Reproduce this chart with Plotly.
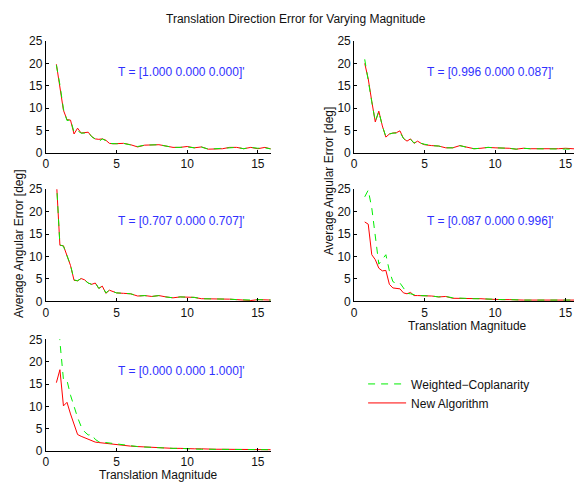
import plotly.graph_objects as go

# ---------------- data ----------------
magnitude = [0.75, 1.0, 1.25, 1.5, 1.75, 2.0, 2.25, 2.5, 2.75, 3.0, 3.25, 3.5, 3.75, 4.0,
             4.25, 4.5, 4.75, 5.0, 5.5, 6.0, 6.5, 7.0, 7.5, 8.0, 8.5, 9.0, 9.5, 10.0,
             10.5, 11.0, 11.5, 12.0, 12.5, 13.0, 13.5, 14.0, 14.5, 15.0, 15.5, 16.0]

directions = ["T = [1.000 0.000 0.000]'", "T = [0.996 0.000 0.087]'",
              "T = [0.707 0.000 0.707]'", "T = [0.087 0.000 0.996]'",
              "T = [0.000 0.000 1.000]'"]

# New Algorithm (red, solid)
new_1 = [19.8, 15.0, 9.5, 7.4, 7.3, 4.2, 5.5, 4.4, 4.5, 4.6, 3.6, 3.1, 3.0, 3.1,
         2.8, 2.1, 2.0, 2.0, 2.1, 1.8, 1.3, 1.7, 1.8, 1.8, 1.5, 1.2, 1.2, 1.4,
         1.1, 1.3, 0.8, 0.9, 0.9, 1.2, 1.2, 0.9, 1.2, 0.9, 1.2, 0.8]
new_2 = [20.0, 16.5, 11.5, 6.9, 9.3, 6.0, 3.5, 4.2, 4.4, 4.5, 4.9, 3.2, 2.6, 3.1,
         2.1, 2.6, 2.1, 1.8, 1.6, 1.5, 1.1, 1.1, 1.6, 1.2, 0.9, 1.0, 1.2, 1.1,
         1.1, 1.0, 0.8, 1.0, 0.9, 0.9, 0.9, 0.8, 0.9, 1.0, 0.8, 0.8]
new_3 = [27.0, 12.5, 12.4, 10.1, 8.0, 4.7, 4.6, 5.1, 4.8, 4.1, 3.8, 4.1, 2.9, 3.4,
         1.8, 2.5, 2.2, 1.9, 1.8, 1.7, 1.2, 1.3, 1.1, 1.3, 1.0, 0.8, 1.0, 1.0,
         0.9, 0.6, 0.6, 0.6, 0.6, 0.5, 0.4, 0.3, 0.2, 0.4, 0.4, 0.3]
new_4 = [17.7, 17.2, 10.4, 9.3, 7.4, 6.8, 6.9, 3.8, 3.0, 2.9, 2.8, 1.9, 1.7, 2.0,
         1.3, 1.3, 1.3, 1.3, 1.2, 1.0, 1.1, 0.7, 0.7, 0.7, 0.6, 0.6, 0.5, 0.4,
         0.4, 0.4, 0.3, 0.3, 0.3, 0.3, 0.3, 0.3, 0.3, 0.3, 0.3, 0.3]
new_5 = [15.3, 18.2, 10.1, 10.9, 8.3, 5.8, 3.7, 3.3, 3.0, 2.6, 2.3, 2.0, 1.9, 1.8,
         1.7, 1.6, 1.5, 1.5, 1.3, 1.1, 1.0, 0.9, 0.8, 0.8, 0.7, 0.6, 0.6, 0.5,
         0.5, 0.5, 0.4, 0.4, 0.4, 0.4, 0.3, 0.3, 0.4, 0.4, 0.3, 0.3]

# Weighted-Coplanarity (green, dashed)
wc_1 = [19.6, 15.2, 9.8, 7.2, 7.4, 4.6, 4.9, 4.4, 4.4, 4.6, 3.6, 3.1, 2.5, 3.1,
        2.7, 2.1, 2.0, 2.0, 2.1, 1.8, 1.4, 1.7, 1.8, 1.8, 1.5, 1.2, 1.2, 1.3,
        1.1, 1.3, 0.8, 0.9, 1.0, 1.2, 1.2, 0.9, 1.2, 1.0, 1.1, 0.8]
wc_2 = [20.9, 16.6, 11.4, 7.0, 9.2, 6.0, 3.6, 4.2, 4.4, 4.4, 4.6, 3.2, 2.6, 3.0,
        2.2, 2.5, 2.1, 1.9, 1.6, 1.5, 1.1, 1.1, 1.6, 1.2, 0.9, 1.0, 1.2, 1.1,
        1.1, 1.0, 0.8, 1.0, 0.9, 0.9, 0.9, 0.8, 0.9, 0.9, 0.8, 0.8]
wc_3 = [27.0, 12.6, 12.3, 10.2, 8.1, 4.8, 4.6, 5.1, 4.7, 4.1, 3.8, 4.2, 2.9, 3.4,
        1.9, 2.5, 2.2, 1.9, 1.8, 1.7, 1.2, 1.3, 1.1, 1.3, 1.0, 0.8, 1.0, 1.0,
        0.9, 0.6, 0.6, 0.6, 0.6, 0.5, 0.4, 0.3, 0.3, 0.4, 0.4, 0.3]
wc_4 = [23.3, 24.8, 20.8, 14.7, 8.3, 9.4, 10.4, 6.8, 4.4, 4.0, 4.1, 3.0, 1.8, 1.7,
        1.5, 1.3, 1.3, 1.3, 1.2, 1.0, 1.1, 0.8, 0.7, 0.7, 0.6, 0.6, 0.5, 0.4,
        0.4, 0.4, 0.3, 0.3, 0.3, 0.3, 0.3, 0.3, 0.3, 0.3, 0.3, 0.3]
wc_5 = [38.0, 24.5, 16.0, 15.8, 12.5, 9.8, 7.5, 5.5, 4.3, 3.6, 3.7, 2.6, 2.1, 2.0,
        1.9, 1.8, 1.6, 1.5, 1.3, 1.1, 1.0, 0.9, 0.8, 0.8, 0.7, 0.6, 0.6, 0.5,
        0.4, 0.4, 0.4, 0.4, 0.3, 0.3, 0.3, 0.3, 0.3, 0.3, 0.3, 0.3]

y_ticks = [0, 5, 10, 15, 20, 25]
x_ticks = [0, 5, 10, 15]

# ---------------- layout helpers ----------------
W, H = 574, 494
def px(x):
    return x / W
def py(y):
    return 1 - y / H

FONT = "Liberation Sans, Arial, Helvetica, sans-serif"
RED = "#ff0000"
GREEN = "#00ee00"
BLUE = "#3030ff"

# (x-domain px, y-domain px (top, bottom), x-range max)
left_dom = [px(43), px(269)]
right_dom = [px(353), 1.0]
panels = [
    (left_dom, (35, 150), 15.9),
    (right_dom, (35, 150), 15.6),
    (left_dom, (187.5, 303), 15.9),
    (right_dom, (187.5, 303), 15.6),
    (left_dom, (342, 457), 15.9),
]
new_series = [new_1, new_2, new_3, new_4, new_5]
wc_series = [wc_1, wc_2, wc_3, wc_4, wc_5]

fig = go.Figure()
layout = dict(
    width=W, height=H,
    margin=dict(l=0, r=0, t=0, b=0),
    paper_bgcolor="white", plot_bgcolor="white",
    font=dict(family=FONT, size=12, color="#111111"),
    showlegend=True,
    legend=dict(x=px(362), y=py(373), xanchor="left", yanchor="top",
                bgcolor="rgba(0,0,0,0)", borderwidth=0, itemwidth=38,
                font=dict(family=FONT, size=12, color="#111111"),
                tracegroupgap=0),
)
annotations = []

for i, (xd, (ytop, ybot), xmax) in enumerate(panels):
    n = "" if i == 0 else str(i + 1)
    xa, ya = "x" + n, "y" + n
    axis_common = dict(showline=True, linecolor="black", linewidth=1,
                       ticks="inside", ticklen=3, tickcolor="black",
                       showgrid=False, zeroline=False,
                       tickfont=dict(family=FONT, size=12, color="#111111"))
    layout["xaxis" + n] = dict(domain=xd, range=[0, xmax], anchor=ya,
                               tickvals=x_ticks, **axis_common)
    layout["yaxis" + n] = dict(domain=[py(ybot), py(ytop)], range=[0, 25], anchor=xa,
                               tickvals=y_ticks, **axis_common)
    fig.add_trace(go.Scatter(x=magnitude, y=new_series[i], xaxis=xa, yaxis=ya,
                             mode="lines", name="New Algorithm",
                             line=dict(color=RED, width=1),
                             showlegend=(i == 0), legendrank=2))
    fig.add_trace(go.Scatter(x=magnitude, y=wc_series[i], xaxis=xa, yaxis=ya,
                             mode="lines", name="Weighted\u2212Coplanarity",
                             line=dict(color=GREEN, width=1, dash="7px,6px"),
                             showlegend=(i == 0), legendrank=1))
    annotations.append(dict(x=5, y=18, xref=xa, yref=ya, text=directions[i],
                            showarrow=False, xanchor="left", yanchor="middle",
                            font=dict(family=FONT, size=12, color=BLUE)))

# title and axis labels
annotations += [
    dict(x=px(295), y=py(12), xref="paper", yref="paper",
         text="Translation Direction Error for Varying Magnitude",
         showarrow=False, xanchor="center", yanchor="middle",
         font=dict(family=FONT, size=12, color="#111111")),
    dict(x=px(466.5), y=py(328), xref="paper", yref="paper",
         text="Translation Magnitude", showarrow=False,
         xanchor="center", yanchor="middle"),
    dict(x=px(156), y=py(482), xref="paper", yref="paper",
         text="Translation Magnitude", showarrow=False,
         xanchor="center", yanchor="middle"),
    dict(x=px(16), y=py(243), xref="paper", yref="paper",
         text="Average Angular Error [deg]", showarrow=False, textangle=-90,
         xanchor="center", yanchor="middle"),
    dict(x=px(328), y=py(179), xref="paper", yref="paper",
         text="Average Angular Error [deg]", showarrow=False, textangle=-90,
         xanchor="center", yanchor="middle"),
]
layout["annotations"] = annotations
fig.update_layout(**layout)
fig.write_html("out.html")
